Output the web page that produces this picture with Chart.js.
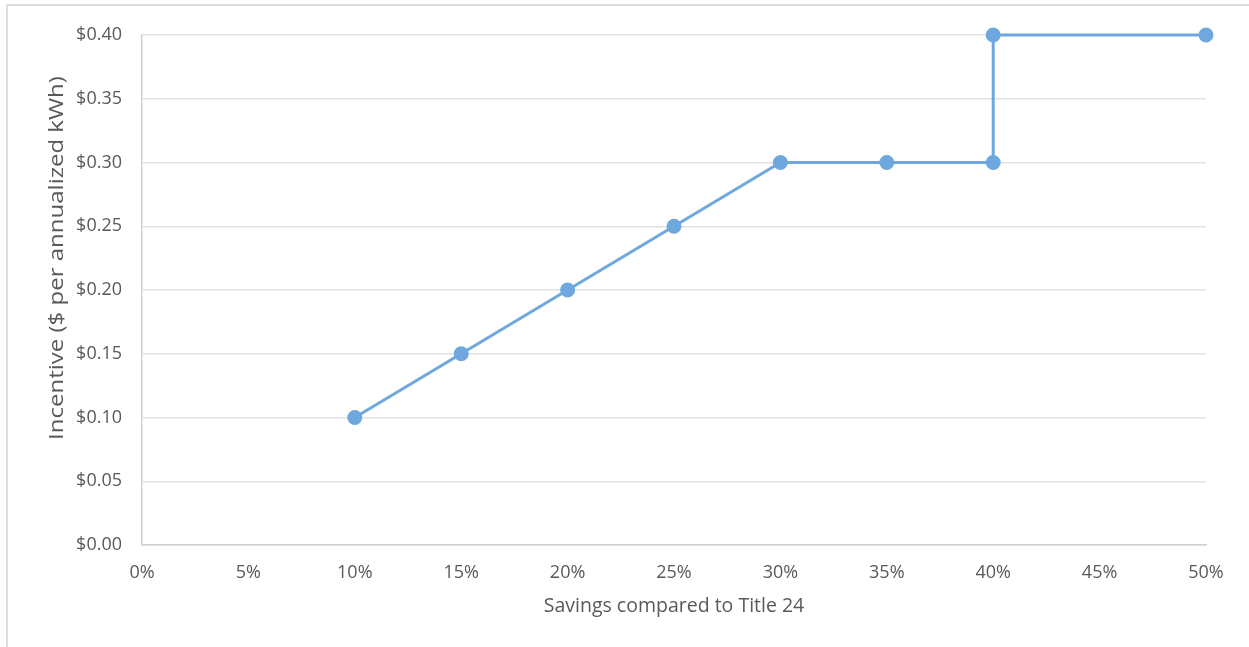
<!DOCTYPE html>
<html>
<head>
<meta charset="utf-8">
<script src="https://cdn.jsdelivr.net/npm/chart.js@4/dist/chart.umd.min.js"></script>
<style>
  html, body { margin: 0; padding: 0; background: #ffffff; }
  #frame {
    position: absolute; left: 6px; top: 4px; width: 1243px; height: 643px;
    border-left: 2px solid #dedede; border-top: 2px solid #dedede;
  }
  #wrap { position: absolute; left: 0; top: 0; width: 1249px; height: 647px; }
</style>
</head>
<body>
<div id="frame"></div>
<div id="wrap"><canvas id="chart"></canvas></div>
<script>
// Incentive schedule: savings (%) vs incentive ($ per annualized kWh)
const savingsPct = [10, 15, 20, 25, 30, 35, 40, 40, 50];
const incentive  = [0.10, 0.15, 0.20, 0.25, 0.30, 0.30, 0.30, 0.40, 0.40];
const xTicks = [0, 5, 10, 15, 20, 25, 30, 35, 40, 45, 50];
const yTicks = [0, 0.05, 0.10, 0.15, 0.20, 0.25, 0.30, 0.35, 0.40];
const xTitle = 'Savings compared to Title 24';
const yTitle = 'Incentive ($ per annualized kWh)';

const points = savingsPct.map((x, i) => ({ x: x, y: incentive[i] }));
const textColor = '#595959';
const family = "'Open Sans', sans-serif";

// Vertical axis title, drawn slightly widened along its run
const yTitlePlugin = {
  id: 'yTitle',
  afterDraw(chart) {
    const ctx = chart.ctx;
    ctx.save();
    ctx.translate(57, 258);
    ctx.rotate(-Math.PI / 2);
    ctx.scale(1.2, 1);
    ctx.font = '20px ' + family;
    ctx.fillStyle = textColor;
    ctx.textAlign = 'center';
    ctx.textBaseline = 'middle';
    ctx.fillText(yTitle, 0, 0);
    ctx.restore();
  }
};

new Chart(document.getElementById('chart'), {
  type: 'scatter',
  data: {
    datasets: [{
      data: points,
      showLine: true,
      tension: 0,
      clip: false,
      borderColor: '#6ea8de',
      backgroundColor: '#6ea8de',
      borderWidth: 3,
      pointRadius: 6,
      pointHoverRadius: 6
    }]
  },
  plugins: [yTitlePlugin],
  options: {
    responsive: true,
    maintainAspectRatio: false,
    animation: false,
    layout: { padding: { left: 0, top: 35, right: 43, bottom: 0 } },
    plugins: { legend: { display: false }, tooltip: { enabled: false } },
    scales: {
      x: {
        type: 'linear',
        min: 0, max: 50,
        afterBuildTicks: s => { s.ticks = xTicks.map(v => ({ value: v })); },
        afterFit: s => { s.height = 102; },
        grid: { display: false, drawTicks: false },
        border: { display: true, color: '#d0d0d0', width: 1.5 },
        ticks: { color: textColor, font: { family: family, size: 18 }, padding: 17,
                 maxRotation: 0, callback: v => v + '%' },
        title: { display: true, text: xTitle,
                 color: textColor, font: { family: family, size: 19.5 },
                 padding: { top: 0, bottom: 29 } }
      },
      y: {
        min: 0, max: 0.40,
        afterBuildTicks: s => { s.ticks = yTicks.map(v => ({ value: v })); },
        afterFit: s => { s.width = 142; },
        grid: { color: '#e2e2e2', lineWidth: 1.5, drawTicks: false },
        border: { display: true, color: '#d0d0d0', width: 1.5 },
        ticks: { color: textColor, font: { family: family, size: 18 }, padding: 20,
                 callback: v => '$' + v.toFixed(2) },
        title: { display: false }
      }
    }
  }
});
</script>
</body>
</html>
